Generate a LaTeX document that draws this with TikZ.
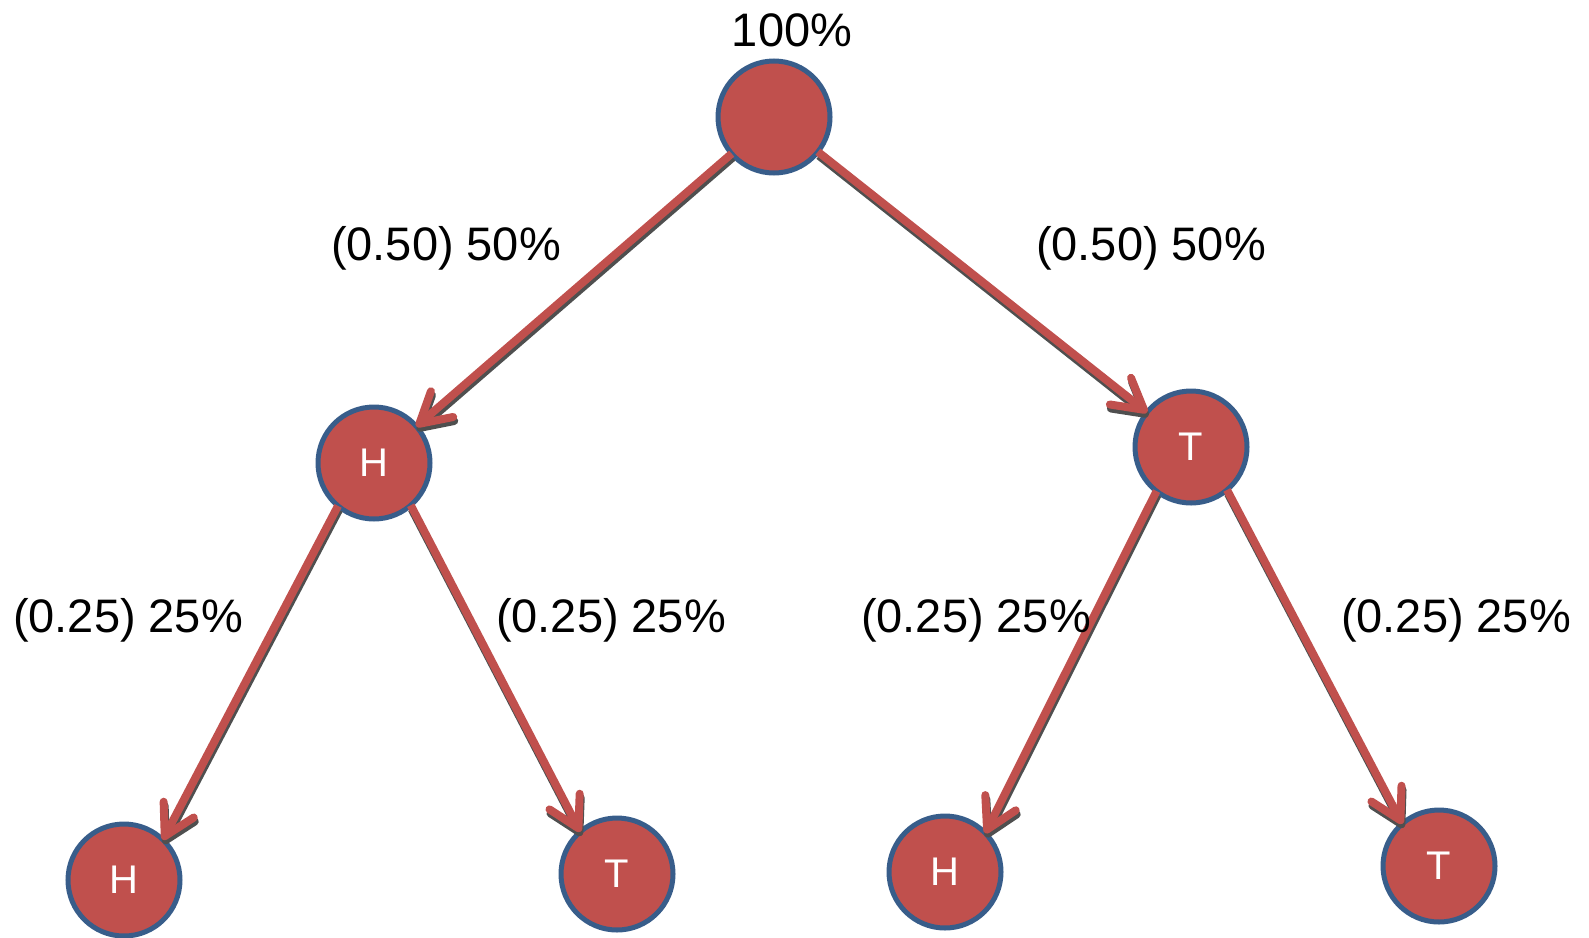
\documentclass[tikz,border=0pt]{standalone}
\usepackage{fontspec}
\setmainfont{Liberation Sans}
\usetikzlibrary{arrows.meta}
\definecolor{cfill}{HTML}{C0504D}
\definecolor{cborder}{HTML}{385D8A}
\definecolor{cshadow}{HTML}{4F4F4F}
\begin{document}
\begin{tikzpicture}[x=1pt,y=-1pt,
  coin/.style={circle,fill=cfill,draw=cborder,line width=5pt,minimum size=112pt,inner sep=0pt,outer sep=0pt,text=white,font=\fontsize{40}{48}\selectfont},
  lbl/.style={font=\fontsize{47}{56}\selectfont,text=black,inner sep=0pt},
  arrshadow/.style={draw=cshadow,line width=8pt,-{Straight Barb[length=30pt,width=34pt,round]},transform canvas={shift={(1pt,-4pt)}}},
  arr/.style={draw=cfill,line width=8pt,-{Straight Barb[length=30pt,width=34pt,round]}}]
\useasboundingbox (0,0) rectangle (1589,937);
\node[coin] (top) at (774,117) {};
\node[coin] (h) at (374,463) {H};
\node[coin] (t) at (1191,447) {T};
\node[coin] (hh) at (124,880) {H};
\node[coin] (ht) at (617,874) {T};
\node[coin] (th) at (945,872) {H};
\node[coin] (tt) at (1439,866) {T};
\foreach \a/\b in {top/h,top/t,h.230/hh.46,h.311/ht.131,t.232/th.44,t.310/tt.131}{
  \draw[arrshadow] (\a) -- (\b);
}
\foreach \a/\b in {top/h,top/t,h.230/hh.46,h.311/ht.131,t.232/th.44,t.310/tt.131}{
  \draw[arr] (\a) -- (\b);
}
\node[lbl] (l0) at (792,30) {100\%};
\node[lbl] (l1) at (446,248) {(0.50) 50\%};
\node[lbl] (l2) at (1151,248) {(0.50) 50\%};
\node[lbl] (l3) at (128,620) {(0.25) 25\%};
\node[lbl] (l4) at (611,620) {(0.25) 25\%};
\node[lbl] (l5) at (976,620) {(0.25) 25\%};
\node[lbl] (l6) at (1456,620) {(0.25) 25\%};
\end{tikzpicture}
\end{document}
